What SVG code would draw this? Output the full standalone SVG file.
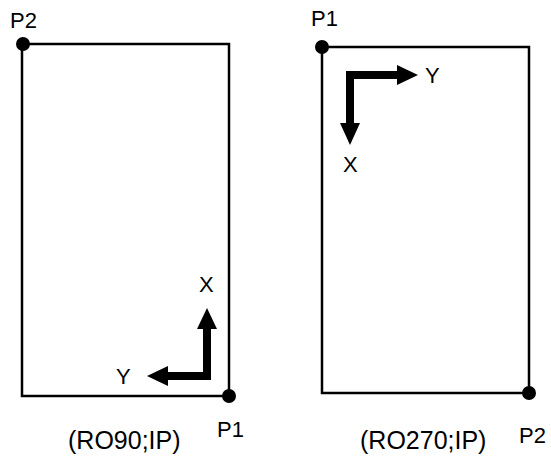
<svg xmlns="http://www.w3.org/2000/svg" width="551" height="458" viewBox="0 0 551 458">
<style>
.frame{fill:none;stroke:#000;stroke-width:2.5}
.dot{fill:#000}
.shaft{fill:none;stroke:#000;stroke-width:8;stroke-linejoin:miter}
.head{fill:#000}
text{font-family:"Liberation Sans",Arial,sans-serif;fill:#000}
.lbl{font-size:22px}
.cap{font-size:25px}
</style>
<rect width="551" height="458" fill="#fff"/>
<g id="left-panel">
  <rect class="frame" x="22" y="44" width="207" height="352"/>
  <circle class="dot" cx="23" cy="44" r="7"/>
  <circle class="dot" cx="229" cy="396" r="7"/>
  <text class="lbl" x="10" y="28">P2</text>
  <text class="lbl" x="217" y="437">P1</text>
  <text class="cap" x="68" y="449">(RO90;IP)</text>
</g>
<g id="right-panel">
  <rect class="frame" x="322" y="47" width="207" height="346"/>
  <circle class="dot" cx="322" cy="47" r="7"/>
  <circle class="dot" cx="529" cy="393" r="7"/>
  <text class="lbl" x="311" y="26">P1</text>
  <text class="lbl" x="519" y="443">P2</text>
  <text class="cap" x="360" y="449">(RO270;IP)</text>
</g>
<g id="connectors">
  <polyline class="shaft" points="207,328 207,376 167,376"/>
  <polygon class="head" points="207,308 217,329 197,329"/>
  <polygon class="head" points="147,376 168,366 168,386"/>
  <polyline class="shaft" points="398,75 350,75 350,124"/>
  <polygon class="head" points="418,75 397,65 397,85"/>
  <polygon class="head" points="350,145 340,123 360,123"/>
</g>
<g id="axis-labels">
  <text class="lbl" x="199" y="292">X</text>
  <text class="lbl" x="116" y="384">Y</text>
  <text class="lbl" x="425" y="83">Y</text>
  <text class="lbl" x="343" y="172">X</text>
</g>
</svg>
